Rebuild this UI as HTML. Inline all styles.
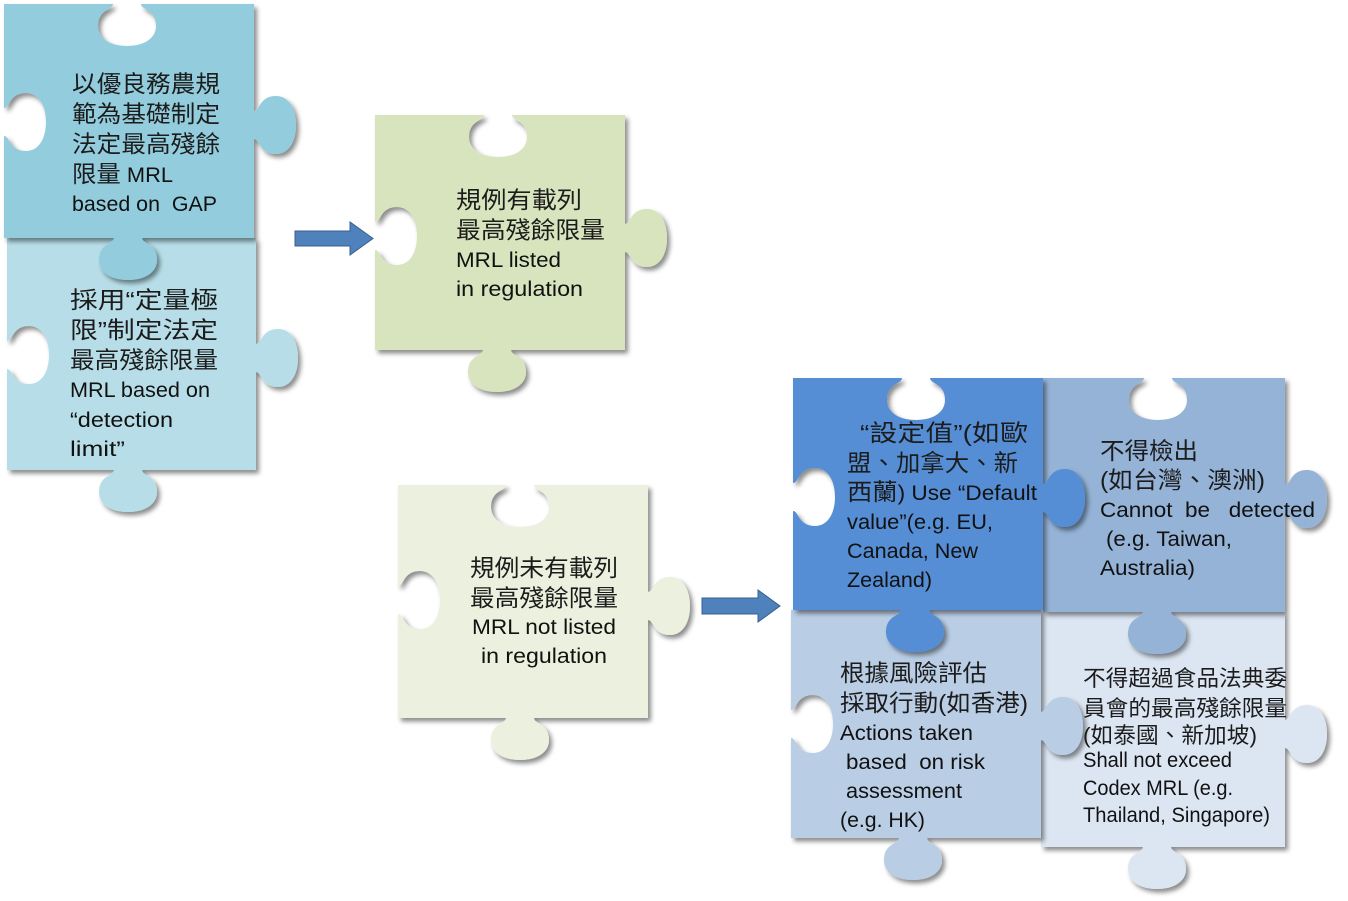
<!DOCTYPE html>
<html>
<head>
<meta charset="utf-8">
<style>
  html, body { margin:0; padding:0; background:#ffffff; }
  svg { display:block; }
  text { font-family: "Liberation Sans", "Noto Sans CJK TC", sans-serif; fill:#111; white-space:pre; }
  .c { font-size:23.5px; fill:#1c1c1c; }
  .l { font-size:21px; }
  .d { font-size:22px; fill:#1c1c1c; }
  .k { font-size:23.5px; fill:#1c1c1c; }
</style>
</head>
<body>
<svg width="1348" height="901" viewBox="0 0 1348 901" xmlns="http://www.w3.org/2000/svg">
  <defs>
    <filter id="sh" x="-10%" y="-10%" width="130%" height="130%">
      <feDropShadow dx="3" dy="3.5" stdDeviation="2.4" flood-color="#000" flood-opacity="0.45"/>
    </filter>
  </defs>

  <!-- Piece 2 (under piece 1) -->
  <path filter="url(#sh)" fill="#B7DEE8" d="M 7,238 L 256,238
    L 256,344 C 262,344 261,329 278,329 C 291,329 298,342 298,358 C 298,374 291,387 278,387 C 261,387 262,372 256,372
    L 256,470
    L 142,470 C 142,476 157,475 157,492 C 157,505 144,512 128,512 C 112,512 99,505 99,492 C 99,475 114,476 114,470
    L 7,470
    L 7,369 C 13,369 12,384 29,384 C 42,384 49,371 49,355 C 49,339 42,326 29,326 C 12,326 13,341 7,341 Z"/>

  <!-- Piece 1 -->
  <path filter="url(#sh)" fill="#93CDDD" d="M 4,4
    L 113,4 C 113,10 98,9 98,26 C 98,39 111,46 127,46 C 143,46 156,39 156,26 C 156,9 141,10 141,4
    L 254,4
    L 254,111 C 260,111 259,96 276,96 C 289,96 296,109 296,125 C 296,141 289,154 276,154 C 259,154 260,139 254,139
    L 254,238
    L 142,238 C 142,244 157,243 157,260 C 157,273 144,280 128,280 C 112,280 99,273 99,260 C 99,243 114,244 114,238
    L 4,238
    L 4,136 C 10,136 9,151 26,151 C 39,151 46,138 46,122 C 46,106 39,93 26,93 C 9,93 10,108 4,108 Z"/>

  <!-- Piece 3 (green) -->
  <path filter="url(#sh)" fill="#D7E4BD" d="M 375,115 L 484,115 C 484,121 469,120 469,137 C 469,150 482,157 498,157 C 514,157 527,150 527,137 C 527,120 512,121 512,115
    L 625,115
    L 625,224 C 631,224 630,209 647,209 C 660,209 667,222 667,238 C 667,254 660,267 647,267 C 630,267 631,252 625,252
    L 625,350
    L 511,350 C 511,356 526,355 526,372 C 526,385 513,392 497,392 C 481,392 468,385 468,372 C 468,355 483,356 483,350
    L 375,350
    L 375,250 C 381,250 380,265 397,265 C 410,265 417,252 417,236 C 417,220 410,207 397,207 C 380,207 381,222 375,222 Z"/>

  <!-- Piece 4 (pale green) -->
  <path filter="url(#sh)" fill="#EBF1DE" d="M 398,485 L 506,485 C 506,491 491,490 491,507 C 491,520 504,527 520,527 C 536,527 549,520 549,507 C 549,490 534,491 534,485
    L 648,485
    L 648,592 C 654,592 653,577 670,577 C 683,577 690,590 690,606 C 690,622 683,635 670,635 C 653,635 654,620 648,620
    L 648,718
    L 534,718 C 534,724 549,723 549,740 C 549,753 536,760 520,760 C 504,760 491,753 491,740 C 491,723 506,724 506,718
    L 398,718
    L 398,614 C 404,614 403,629 420,629 C 433,629 440,616 440,600 C 440,584 433,571 420,571 C 403,571 404,586 398,586 Z"/>

  <!-- Arrows -->
  <path fill="#4F81BD" stroke="#3A5F8B" stroke-width="1" d="M295,231 L350,231 L350,222 L373,238.5 L350,255 L350,246 L295,246 Z"/>
  <path fill="#4F81BD" stroke="#3A5F8B" stroke-width="1" d="M702,598 L758,598 L758,590 L780,606 L758,622 L758,614 L702,614 Z"/>

  <!-- Piece D -->
  <path filter="url(#sh)" fill="#DCE6F2" d="M 1041,612 L 1285,612
    L 1285,720 C 1291,720 1290,705 1307,705 C 1320,705 1327,718 1327,734 C 1327,750 1320,763 1307,763 C 1290,763 1291,748 1285,748
    L 1285,847
    L 1171,847 C 1171,853 1186,852 1186,869 C 1186,882 1173,889 1157,889 C 1141,889 1128,882 1128,869 C 1128,852 1143,853 1143,847
    L 1041,847 Z"/>

  <!-- Piece C -->
  <path filter="url(#sh)" fill="#B9CDE5" d="M 791,610 L 1041,610
    L 1041,712 C 1047,712 1046,697 1063,697 C 1076,697 1083,710 1083,726 C 1083,742 1076,755 1063,755 C 1046,755 1047,740 1041,740
    L 1041,838
    L 927,838 C 927,844 942,843 942,860 C 942,873 929,880 913,880 C 897,880 884,873 884,860 C 884,843 899,844 899,838
    L 791,838
    L 791,738 C 797,738 796,753 813,753 C 826,753 833,740 833,724 C 833,708 826,695 813,695 C 796,695 797,710 791,710 Z"/>

  <!-- Piece B -->
  <path filter="url(#sh)" fill="#95B3D7" d="M 1043,378 L 1144,378 C 1144,384 1129,383 1129,400 C 1129,413 1142,420 1158,420 C 1174,420 1187,413 1187,400 C 1187,383 1172,384 1172,378
    L 1285,378
    L 1285,485 C 1291,485 1290,470 1307,470 C 1320,470 1327,483 1327,499 C 1327,515 1320,528 1307,528 C 1290,528 1291,513 1285,513
    L 1285,612
    L 1171,612 C 1171,618 1186,617 1186,634 C 1186,647 1173,654 1157,654 C 1141,654 1128,647 1128,634 C 1128,617 1143,618 1143,612
    L 1043,612 Z"/>

  <!-- Piece A -->
  <path filter="url(#sh)" fill="#558ED5" d="M 793,378 L 902,378 C 902,384 887,383 887,400 C 887,413 900,420 916,420 C 932,420 945,413 945,400 C 945,383 930,384 930,378
    L 1043,378
    L 1043,484 C 1049,484 1048,469 1065,469 C 1078,469 1085,482 1085,498 C 1085,514 1078,527 1065,527 C 1048,527 1049,512 1043,512
    L 1043,610
    L 929,610 C 929,616 944,615 944,632 C 944,645 931,652 915,652 C 899,652 886,645 886,632 C 886,615 901,616 901,610
    L 793,610
    L 793,511 C 799,511 798,526 815,526 C 828,526 835,513 835,497 C 835,481 828,468 815,468 C 798,468 799,483 793,483 Z"/>

  <!-- Text: Piece 1 -->
  <text class="c" x="72" y="92" textLength="148" lengthAdjust="spacingAndGlyphs">以優良務農規</text>
  <text class="c" x="72" y="122" textLength="148" lengthAdjust="spacingAndGlyphs">範為基礎制定</text>
  <text class="c" x="72" y="152" textLength="148" lengthAdjust="spacingAndGlyphs">法定最高殘餘</text>
  <text class="l" x="72" y="182" textLength="101" lengthAdjust="spacingAndGlyphs"><tspan class="k">限量</tspan> MRL</text>
  <text class="l" x="72" y="211" textLength="145" lengthAdjust="spacingAndGlyphs">based on  GAP</text>

  <!-- Text: Piece 2 -->
  <text class="c" x="70" y="308" textLength="148" lengthAdjust="spacingAndGlyphs">採用“定量極</text>
  <text class="c" x="70" y="338" textLength="148" lengthAdjust="spacingAndGlyphs">限”制定法定</text>
  <text class="c" x="70" y="368" textLength="148" lengthAdjust="spacingAndGlyphs">最高殘餘限量</text>
  <text class="l" x="70" y="397" textLength="140" lengthAdjust="spacingAndGlyphs">MRL based on</text>
  <text class="l" x="70" y="427" textLength="103" lengthAdjust="spacingAndGlyphs">“detection</text>
  <text class="l" x="70" y="456" textLength="55" lengthAdjust="spacingAndGlyphs">limit”</text>

  <!-- Text: Piece 3 -->
  <text class="c" x="456" y="208" textLength="126" lengthAdjust="spacingAndGlyphs">規例有載列</text>
  <text class="c" x="456" y="238" textLength="149" lengthAdjust="spacingAndGlyphs">最高殘餘限量</text>
  <text class="l" x="456" y="267" textLength="105" lengthAdjust="spacingAndGlyphs">MRL listed</text>
  <text class="l" x="456" y="296" textLength="127" lengthAdjust="spacingAndGlyphs">in regulation</text>

  <!-- Text: Piece 4 -->
  <text class="c" x="470" y="576" textLength="148" lengthAdjust="spacingAndGlyphs">規例未有載列</text>
  <text class="c" x="470" y="606" textLength="148" lengthAdjust="spacingAndGlyphs">最高殘餘限量</text>
  <text class="l" x="472" y="634" textLength="144" lengthAdjust="spacingAndGlyphs">MRL not listed</text>
  <text class="l" x="481" y="663" textLength="126" lengthAdjust="spacingAndGlyphs">in regulation</text>

  <!-- Text: Piece A -->
  <text class="c" x="860" y="441" textLength="168" lengthAdjust="spacingAndGlyphs">“設定值”(如歐</text>
  <text class="c" x="847" y="471" textLength="171" lengthAdjust="spacingAndGlyphs">盟、加拿大、新</text>
  <text class="l" x="847" y="500" textLength="190" lengthAdjust="spacingAndGlyphs"><tspan class="k">西蘭</tspan>) Use “Default</text>
  <text class="l" x="847" y="529" textLength="146" lengthAdjust="spacingAndGlyphs">value”(e.g. EU,</text>
  <text class="l" x="847" y="558" textLength="131" lengthAdjust="spacingAndGlyphs">Canada, New</text>
  <text class="l" x="847" y="587" textLength="85" lengthAdjust="spacingAndGlyphs">Zealand)</text>

  <!-- Text: Piece B -->
  <text class="c" x="1100" y="459" textLength="98" lengthAdjust="spacingAndGlyphs">不得檢出</text>
  <text class="c" x="1100" y="488" textLength="165" lengthAdjust="spacingAndGlyphs">(如台灣、澳洲)</text>
  <text class="l" x="1100" y="517" textLength="215" lengthAdjust="spacingAndGlyphs">Cannot  be   detected</text>
  <text class="l" x="1106" y="546" textLength="126" lengthAdjust="spacingAndGlyphs">(e.g. Taiwan,</text>
  <text class="l" x="1100" y="575" textLength="95" lengthAdjust="spacingAndGlyphs">Australia)</text>

  <!-- Text: Piece C -->
  <text class="c" x="840" y="681" textLength="147" lengthAdjust="spacingAndGlyphs">根據風險評估</text>
  <text class="c" x="840" y="711" textLength="188" lengthAdjust="spacingAndGlyphs">採取行動(如香港)</text>
  <text class="l" x="840" y="740" textLength="133" lengthAdjust="spacingAndGlyphs">Actions taken</text>
  <text class="l" x="846" y="769" textLength="139" lengthAdjust="spacingAndGlyphs">based  on risk</text>
  <text class="l" x="846" y="798" textLength="116" lengthAdjust="spacingAndGlyphs">assessment</text>
  <text class="l" x="840" y="827" textLength="85" lengthAdjust="spacingAndGlyphs">(e.g. HK)</text>

  <!-- Text: Piece D -->
  <text class="d" x="1083" y="686" textLength="204" lengthAdjust="spacingAndGlyphs">不得超過食品法典委</text>
  <text class="d" x="1083" y="716" textLength="204" lengthAdjust="spacingAndGlyphs">員會的最高殘餘限量</text>
  <text class="d" x="1083" y="743" textLength="174" lengthAdjust="spacingAndGlyphs">(如泰國、新加坡)</text>
  <text class="l" x="1083" y="767" textLength="149" lengthAdjust="spacingAndGlyphs">Shall not exceed</text>
  <text class="l" x="1083" y="795" textLength="150" lengthAdjust="spacingAndGlyphs">Codex MRL (e.g.</text>
  <text class="l" x="1083" y="822" textLength="187" lengthAdjust="spacingAndGlyphs">Thailand, Singapore)</text>
</svg>
</body>
</html>
